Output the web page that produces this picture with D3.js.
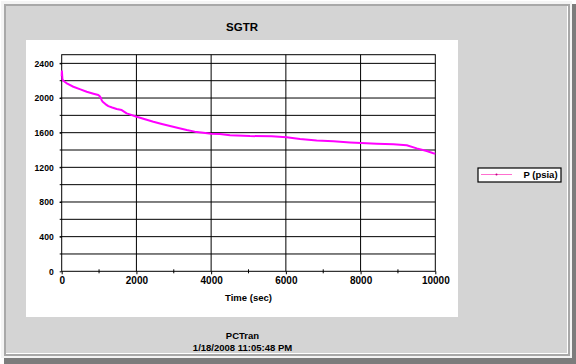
<!DOCTYPE html>
<html>
<head>
<meta charset="utf-8">
<script src="https://cdn.jsdelivr.net/npm/d3@7"></script>
<style>
  html, body { margin: 0; padding: 0; background: #ffffff; }
  svg { display: block; }
  text { font-family: "Liberation Sans", Arial, sans-serif; font-weight: bold; fill: #000; }
</style>
</head>
<body>
<script>
// ---- data ----
const chartTitle = "SGTR";
const seriesName = "P (psia)";
const xAxisTitle = "Time (sec)";
const footerLines = ["PCTran", "1/18/2008 11:05:48 PM"];
const xTicks = [0, 2000, 4000, 6000, 8000, 10000];
const xMinorTicks = [1000, 3000, 5000, 7000, 9000];
const yTicks = [0, 400, 800, 1200, 1600, 2000, 2400];
const yGrid = [200, 400, 600, 800, 1000, 1200, 1400, 1600, 1800, 2000, 2200, 2400];
const timeSec = [0, 5, 20, 44, 150, 312, 500, 669, 850, 980, 1010, 1043, 1070, 1097, 1170, 1248, 1350, 1472, 1606, 1740, 2007, 2230, 2453, 2680, 2900, 3120, 3346, 3560, 3790, 3999, 4237, 4505, 5040, 5620, 6021, 6380, 6826, 7272, 7718, 8012, 8432, 8878, 9235, 9503, 9770, 9949, 10000];
const pressure = [2250, 2310, 2215, 2199, 2165, 2130, 2100, 2072, 2050, 2034, 2025, 2005, 1975, 1957, 1930, 1907, 1890, 1873, 1861, 1823, 1784, 1755, 1726, 1700, 1677, 1653, 1630, 1612, 1599, 1588, 1584, 1569, 1561, 1558, 1546, 1527, 1511, 1500, 1488, 1480, 1472, 1465, 1454, 1419, 1388, 1362, 1358];

const W = 576, H = 364;
const svg = d3.select("body").append("svg").attr("width", W).attr("height", H);

// window frame
svg.append("rect").attr("x", 0).attr("y", 0).attr("width", W).attr("height", H).attr("fill", "#ffffff");
svg.append("rect").attr("x", 4).attr("y", 4).attr("width", W - 4).attr("height", H - 4).attr("fill", "#7c7c7c");
svg.append("rect").attr("x", 1).attr("y", 1).attr("width", 571).attr("height", 357).attr("fill", "#f4f4f4");
svg.append("rect").attr("x", 4).attr("y", 4).attr("width", 566).attr("height", 352).attr("fill", "#a8a8a8");
svg.append("rect").attr("x", 6).attr("y", 6).attr("width", 562).attr("height", 348).attr("fill", "#ffffff");
svg.append("rect").attr("x", 6).attr("y", 6).attr("width", 561).attr("height", 347).attr("fill", "#d4d4d4");

// white chart area
svg.append("rect").attr("x", 26).attr("y", 40).attr("width", 432).attr("height", 277).attr("fill", "#ffffff");

// scales
const x = d3.scaleLinear().domain([0, 10000]).range([61.7, 435.3]);
const y = d3.scaleLinear().domain([0, 2500]).range([271.3, 54.7]);

const g = svg.append("g");

// horizontal gridlines
g.selectAll("line.hg").data(yGrid).join("line")
  .attr("x1", x(0) - 2).attr("x2", x(10000))
  .attr("y1", d => y(d)).attr("y2", d => y(d))
  .attr("stroke", "#000").attr("stroke-width", 1);

// vertical gridlines
g.selectAll("line.vg").data(xTicks.slice(1, -1)).join("line")
  .attr("x1", d => x(d)).attr("x2", d => x(d))
  .attr("y1", y(0)).attr("y2", y(2500))
  .attr("stroke", "#000").attr("stroke-width", 1);

// frame
g.append("rect").attr("x", x(0)).attr("y", y(2500))
  .attr("width", x(10000) - x(0)).attr("height", y(0) - y(2500))
  .attr("fill", "none").attr("stroke", "#000").attr("stroke-width", 1);

// x axis
const xAxis = d3.axisBottom(x).tickValues(xTicks).tickSize(3).tickPadding(4).tickFormat(d3.format("d"));
const xa = g.append("g").attr("transform", `translate(0,${y(0)})`).call(xAxis);
xa.select(".domain").remove();
xa.selectAll("line").attr("stroke", "#000");
xa.selectAll("text").style("font-size", "10px").style("font-family", "'Liberation Sans', Arial, sans-serif").style("font-weight", "bold").attr("dy", "0.6em");
// minor ticks
g.selectAll("line.mt").data(xMinorTicks).join("line")
  .attr("x1", d => x(d)).attr("x2", d => x(d))
  .attr("y1", y(0) - 2).attr("y2", y(0) + 2)
  .attr("stroke", "#000");

// y axis
const yAxis = d3.axisLeft(y).tickValues(yTicks).tickSize(2).tickPadding(6).tickFormat(d3.format("d"));
const ya = g.append("g").attr("transform", `translate(${x(0)},0)`).call(yAxis);
ya.select(".domain").remove();
ya.selectAll("line").attr("stroke", "#000");
ya.selectAll("text").style("font-size", "8.6px").style("font-family", "'Liberation Sans', Arial, sans-serif").style("font-weight", "bold");

// series line
const line = d3.line().x((d, i) => x(timeSec[i])).y(d => y(d));
g.append("path").datum(pressure)
  .attr("d", line)
  .attr("fill", "none").attr("stroke", "#ff00ff").attr("stroke-width", 2).attr("stroke-linejoin", "round");

// titles
svg.append("text").attr("x", 242).attr("y", 30.5).attr("text-anchor", "middle")
  .style("font-size", "11.5px").text(chartTitle);
svg.append("text").attr("x", (x(0) + x(10000)) / 2).attr("y", 300.5).attr("text-anchor", "middle")
  .style("font-size", "9.5px").text(xAxisTitle);
svg.selectAll("text.foot").data(footerLines).join("text")
  .attr("x", 242.5).attr("y", (d, i) => 339 + i * 12).attr("text-anchor", "middle")
  .style("font-size", "9.5px").text(d => d);

// legend
const lg = svg.append("g");
lg.append("rect").attr("x", 478).attr("y", 168).attr("width", 83).attr("height", 14)
  .attr("fill", "#ffffff").attr("stroke", "#000").attr("stroke-width", 1.2);
lg.append("line").attr("x1", 481).attr("x2", 512).attr("y1", 174.5).attr("y2", 174.5)
  .attr("stroke", "#ff6fcf").attr("stroke-width", 1);
lg.append("circle").attr("cx", 496.5).attr("cy", 174.5).attr("r", 1).attr("fill", "#c0007f");
lg.append("text").attr("x", 540.5).attr("y", 178).attr("text-anchor", "middle")
  .style("font-size", "9.5px").text(seriesName);
</script>
</body>
</html>
